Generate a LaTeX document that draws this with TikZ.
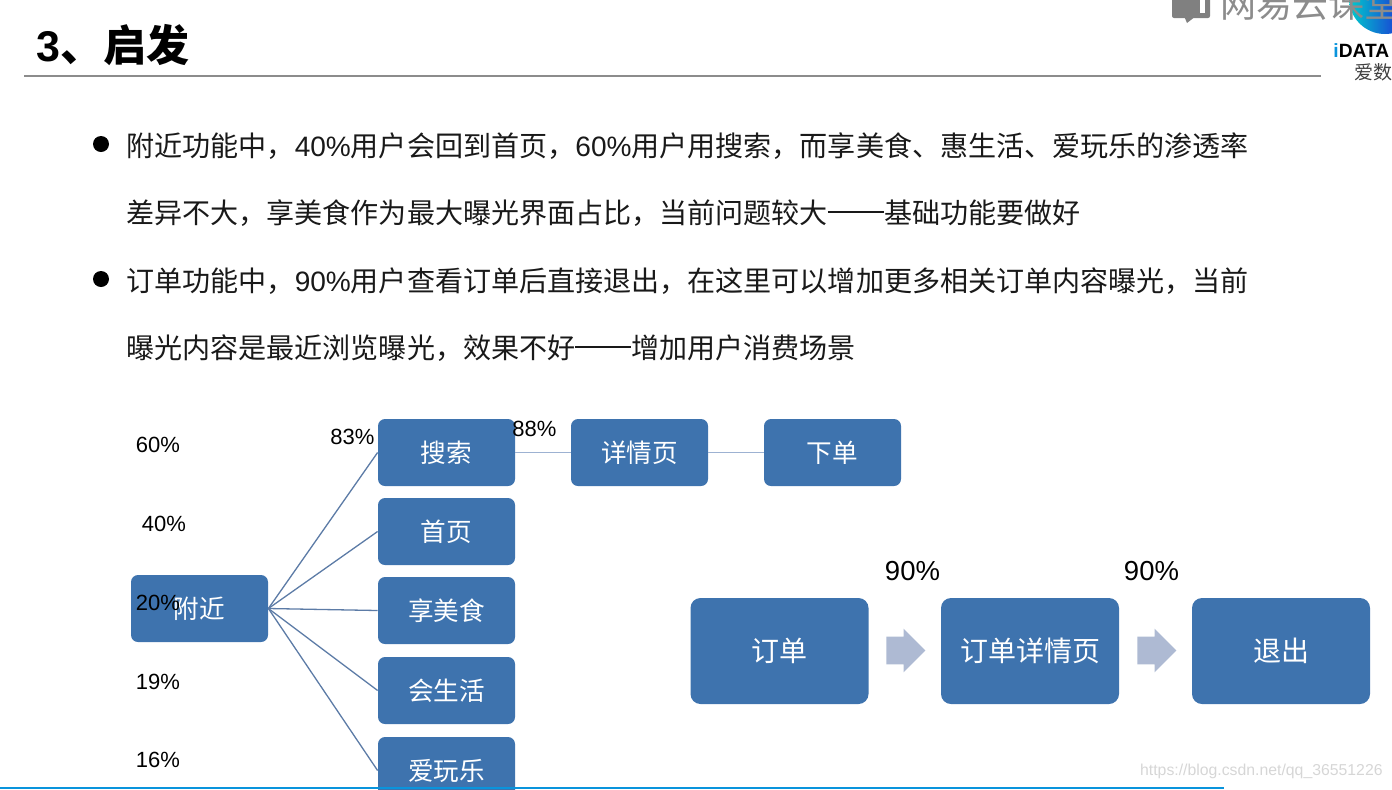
\documentclass[tikz,border=0pt]{standalone}
\usepackage{fontspec}
\setmainfont{Liberation Sans}
\newfontfamily\cjk{Noto Sans CJK SC}
\usetikzlibrary{shapes.arrows}
\definecolor{boxblue}{HTML}{3E73AE}
\definecolor{linkblue}{HTML}{5C7BA6}
\definecolor{paleblue}{HTML}{9DB2D2}
\definecolor{arrowblue}{HTML}{AEBAD3}
\newcommand{\pct}[1]{{\rmfamily #1\%}}
\newcommand{\longdash}{\rule[0.36em]{2em}{0.08em}}
\tikzset{
  flowbox/.style={draw=none, fill=boxblue, rounded corners=3.5pt, text=white, font=\fontsize{12.8}{15}\selectfont\cjk,
    minimum width=68.5pt, minimum height=33.5pt, inner sep=0pt},
  bigbox/.style={flowbox, rounded corners=5pt, font=\fontsize{14}{17}\selectfont\cjk, minimum width=89pt, minimum height=53pt},
  smallpct/.style={font=\fontsize{11}{13}\selectfont, inner sep=0pt},
  bigpct/.style={font=\fontsize{13.75}{16}\selectfont, inner sep=0pt},
  bodyline/.style={anchor=west, inner sep=0pt, font=\fontsize{14.03}{17}\selectfont\cjk, text=black!90},
  dotmark/.style={circle, fill=black, minimum size=8pt, inner sep=0pt},
  link/.style={linkblue, line width=0.65pt},
  palelink/.style={paleblue, line width=0.75pt},
  nextarrow/.style={single arrow, fill=arrowblue, minimum height=19.5pt, minimum width=21.5pt,
    single arrow head extend=4pt, inner xsep=0pt, inner ysep=6.7pt, single arrow head indent=0pt}
}
\begin{document}
\begin{tikzpicture}[x=0.5pt, y=-0.5pt]
\useasboundingbox (0,0) rectangle (1392,789);
\clip (0,0) rectangle (1392,789);
% header
\node[anchor=west, inner sep=0pt, font=\fontsize{21.5}{25}\selectfont\bfseries\cjk] (title) at (36,45) {{\rmfamily\bfseries 3}、启发};
\coordinate (ruleL) at (24,76);
\coordinate (ruleR) at (1321,76);
\draw[black!45, line width=0.7pt] (ruleL) -- (ruleR);
% logo
\shade[left color=cyan!60!teal, right color=blue!70!violet] (1385,-2) circle (36);
\fill[black!50, rounded corners=1pt] (1172,-6) rectangle (1210,18);
\fill[white] (1200,-6) rectangle (1205,13);
\fill[black!50] (1184,16) -- (1187,23) -- (1196,16) -- cycle;
\node[anchor=west, inner sep=0pt, text=black!45, font=\fontsize{18}{20}\selectfont\cjk] (brand) at (1220,4) {网易云课堂};
\node[anchor=west, inner sep=0pt, font=\fontsize{9.6}{11}\selectfont\bfseries] (idata) at (1333,51) {{\color{cyan!80!blue}i}DATA};
\node[anchor=west, inner sep=0pt, text=black!75, font=\fontsize{9.5}{11}\selectfont\cjk] (aishu) at (1354,72) {爱数};
% bullets
\node[dotmark] (dotA) at (101,144) {};
\node[bodyline] (lineA) at (126,146) {附近功能中，\pct{40}用户会回到首页，\pct{60}用户用搜索，而享美食、惠生活、爱玩乐的渗透率};
\node[bodyline] (lineB) at (126,213) {差异不大，享美食作为最大曝光界面占比，当前问题较大\longdash 基础功能要做好};
\node[dotmark] (dotB) at (101,279) {};
\node[bodyline] (lineC) at (126,281) {订单功能中，\pct{90}用户查看订单后直接退出，在这里可以增加更多相关订单内容曝光，当前};
\node[bodyline] (lineD) at (126,348) {曝光内容是最近浏览曝光，效果不好\longdash 增加用户消费场景};
% tree
\node[flowbox] (near) at (199.5,608.5) {附近};
\node[flowbox] (search) at (446.5,452.5) {搜索};
\node[flowbox] (home) at (446.5,531.5) {首页};
\node[flowbox] (food) at (446.5,610.5) {享美食};
\node[flowbox] (life) at (446.5,690.5) {会生活};
\node[flowbox] (fun) at (446.5,770.5) {爱玩乐};
\node[flowbox] (detail) at (639.5,452.5) {详情页};
\node[flowbox] (buy) at (832.5,452.5) {下单};
\foreach \to in {search,home,food,life,fun}
  \draw[link] (near.east) -- (\to.west);
\draw[palelink] (search.east) -- (detail.west);
\draw[palelink] (detail.east) -- (buy.west);
\node[smallpct] (pA) at (158,445) {60\%};
\node[smallpct] (pB) at (164,524) {40\%};
\node[smallpct] (pC) at (158,603) {20\%};
\node[smallpct] (pD) at (158,682) {19\%};
\node[smallpct] (pE) at (158,760) {16\%};
\node[smallpct] (pF) at (352.5,437) {83\%};
\node[smallpct] (pG) at (534.5,429) {88\%};
% order flow
\node[bigbox] (order) at (779.5,651) {订单};
\node[bigbox] (orderinfo) at (1030,651) {订单详情页};
\node[bigbox] (quit) at (1281,651) {退出};
\node[nextarrow] (stepA) at (899,650.5) {};
\node[nextarrow] (stepB) at (1150,650.5) {};
\node[bigpct] (pH) at (912.5,571) {90\%};
\node[bigpct] (pI) at (1151.5,571) {90\%};
% footer
\node[anchor=east, inner sep=0pt, text=black!16, font=\fontsize{7.9}{10}\selectfont] (mark) at (1383,771) {https://blog.csdn.net/qq\_36551226};
\coordinate (barL) at (0,788);
\coordinate (barR) at (1224,788);
\draw[cyan!80!blue, line width=1pt] (barL) -- (barR);
\end{tikzpicture}
\end{document}
